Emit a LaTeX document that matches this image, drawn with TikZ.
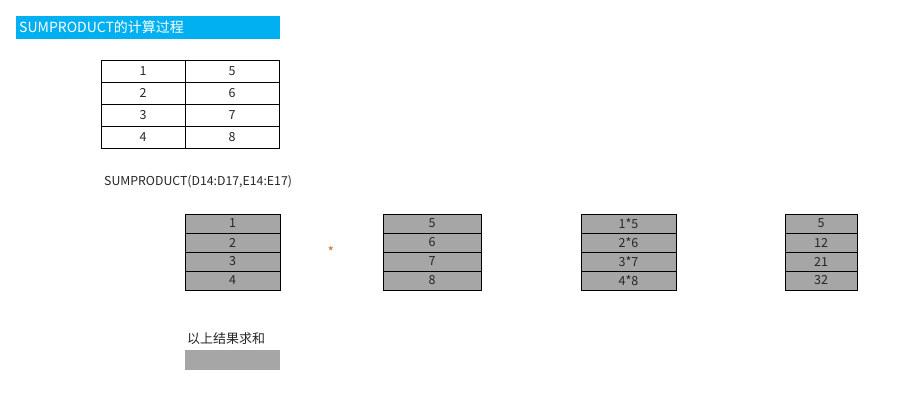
\documentclass[tikz,border=0pt]{standalone}
\usepackage{fontspec}
\setmainfont{Noto Sans CJK SC}

\begin{document}
\begin{tikzpicture}[x=1pt,y=-1pt,
    cell/.style={draw=black, line width=0.9pt, text=txtgray, inner sep=0pt,
        font=\fontsize{12.5}{12.5}\selectfont},
    topcell/.style={cell, minimum height=22pt},
    graycell/.style={cell, fill=cellgray, minimum height=19pt}]

    \definecolor{titleblue}{RGB}{0,176,240}
    \definecolor{cellgray}{RGB}{166,166,166}
    \definecolor{txtgray}{RGB}{38,38,38}
    \definecolor{stararrow}{RGB}{192,120,60}
    \useasboundingbox (0,0) rectangle (917,405);

    % Draw the title bar
    \fill[titleblue] (16,16) rectangle (280,38.5);
    \node[anchor=west, text=white, inner sep=0pt, font=\fontsize{14}{14}\selectfont] (title) at (19,27.5) {SUMPRODUCT的计算过程};

    % Draw the source table
    \node[topcell, minimum width=84pt] (d14) at (143,71) {1};
    \node[topcell, minimum width=84pt] (d15) at (143,93) {2};
    \node[topcell, minimum width=84pt] (d16) at (143,115) {3};
    \node[topcell, minimum width=84pt] (d17) at (143,137) {4};
    \node[topcell, minimum width=94pt] (e14) at (232,71) {5};
    \node[topcell, minimum width=94pt] (e15) at (232,93) {6};
    \node[topcell, minimum width=94pt] (e16) at (232,115) {7};
    \node[topcell, minimum width=94pt] (e17) at (232,137) {8};

    % Draw the formula
    \node[anchor=west, inner sep=0pt, text=txtgray, font=\fontsize{12.3}{12.3}\selectfont] (formula) at (104,182) {SUMPRODUCT(D14:D17,E14:E17)};

    % Draw the first array
    \node[graycell, minimum width=95pt] (a1) at (232.5,223.5) {1};
    \node[graycell, minimum width=95pt] (a2) at (232.5,242.5) {2};
    \node[graycell, minimum width=95pt] (a3) at (232.5,261.5) {3};
    \node[graycell, minimum width=95pt] (a4) at (232.5,280.5) {4};

    % Draw the multiply sign
    \node[text=stararrow, inner sep=0pt, font=\fontsize{14}{14}\selectfont] (times) at (331,252) {*};

    % Draw the second array
    \node[graycell, minimum width=98pt] (b1) at (432,223.5) {5};
    \node[graycell, minimum width=98pt] (b2) at (432,242.5) {6};
    \node[graycell, minimum width=98pt] (b3) at (432,261.5) {7};
    \node[graycell, minimum width=98pt] (b4) at (432,280.5) {8};

    % Draw the products
    \node[graycell, minimum width=95pt] (p1) at (628.5,223.5) {1*5};
    \node[graycell, minimum width=95pt] (p2) at (628.5,242.5) {2*6};
    \node[graycell, minimum width=95pt] (p3) at (628.5,261.5) {3*7};
    \node[graycell, minimum width=95pt] (p4) at (628.5,280.5) {4*8};

    % Draw the results
    \node[graycell, minimum width=72pt] (r1) at (821,223.5) {5};
    \node[graycell, minimum width=72pt] (r2) at (821,242.5) {12};
    \node[graycell, minimum width=72pt] (r3) at (821,261.5) {21};
    \node[graycell, minimum width=72pt] (r4) at (821,280.5) {32};

    % Draw the sum label and the empty sum cell
    \node[anchor=west, inner sep=0pt, text=txtgray, font=\fontsize{13}{13}\selectfont] (sumlabel) at (187,339) {以上结果求和};
    \fill[cellgray] (185,350) rectangle (280,370);

\end{tikzpicture}
\end{document}
